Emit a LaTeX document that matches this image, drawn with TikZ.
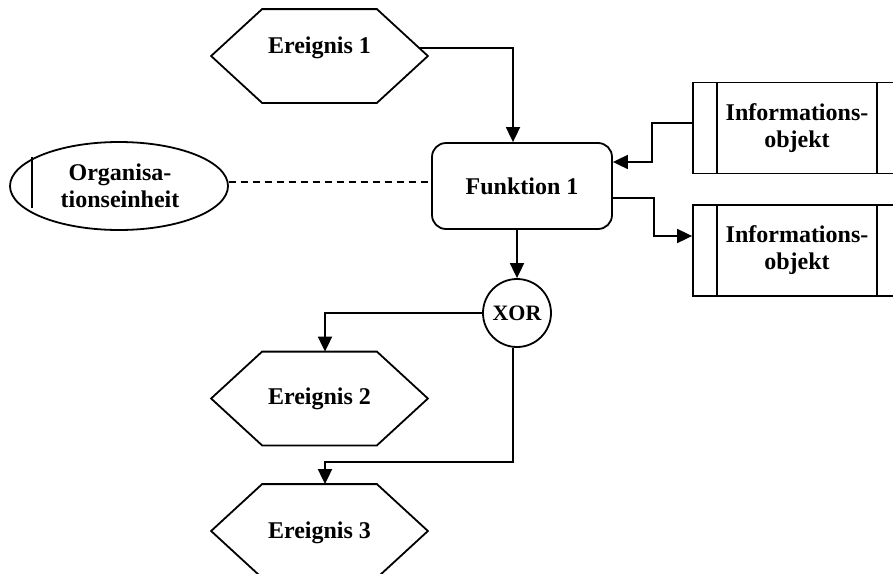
\documentclass[tikz,border=0pt]{standalone}
\usepackage{fontspec}
\setmainfont{Liberation Serif}
\usetikzlibrary{arrows.meta,shapes.geometric,calc}
\newcommand\hexdraw[1]{\draw (#1.west) -- ([xshift=51pt]#1.north west) -- ([xshift=-51pt]#1.north east) -- (#1.east) -- ([xshift=-51pt]#1.south east) -- ([xshift=51pt]#1.south west) -- cycle;}
\begin{document}
\begin{tikzpicture}[x=1pt,y=-1pt,line width=1.8pt,
  lbl/.style={font=\bfseries\fontsize{24}{27}\selectfont,align=center,inner sep=0pt},
  hexnode/.style={minimum width=215pt,minimum height=92pt,inner sep=0pt,draw=none},
  func/.style={lbl,draw,rounded corners=14pt,minimum width=180pt,minimum height=86pt},
  info/.style={lbl,draw,minimum width=208pt,minimum height=91pt},
  xorc/.style={draw,circle,minimum size=68pt,inner sep=0pt,font=\bfseries\fontsize{22}{26}\selectfont},
  orgell/.style={lbl,draw,ellipse,minimum width=218pt,minimum height=88pt},
  arr/.style={-{Triangle[length=15pt,width=14pt]}}]
\useasboundingbox (0,0) rectangle (893,573);
% events
\node[hexnode] (e1) at (319.5,56) {};
\node[lbl] (e1t) at ([yshift=8pt]e1.center) {Ereignis 1};
\hexdraw{e1}
\node[hexnode] (e2) at (319.5,398.5) {};
\node[lbl] (e2t) at (e2.center) {Ereignis 2};
\hexdraw{e2}
\node[hexnode] (e3) at (319.5,531) {};
\node[lbl] (e3t) at ([yshift=-2pt]e3.center) {Ereignis 3};
\hexdraw{e3}
% function
\node[func] (f1) at (522,186) {Funktion 1};
% info objects
\node[info] (inf1) at (797,128) {Informations-\\objekt};
\draw ([xshift=25pt]inf1.north west) -- ([xshift=25pt]inf1.south west);
\draw ([xshift=-25pt]inf1.north east) -- ([xshift=-25pt]inf1.south east);
\node[info] (inf2) at (797,250.5) {Informations-\\objekt};
\draw ([xshift=25pt]inf2.north west) -- ([xshift=25pt]inf2.south west);
\draw ([xshift=-25pt]inf2.north east) -- ([xshift=-25pt]inf2.south east);
% organisation unit
\node[orgell] (org) at (119,186) {\hspace*{2pt}Organisa-\\\hspace*{2pt}tionseinheit};
\draw ($(org)+(-87,-29)$) -- ($(org)+(-87,22)$);
% XOR
\node[xorc] (xor) at (517,313) {XOR};
% connectors
\coordinate (e1s) at ($(e1.east)+(-9.4,-8)$);
\draw[arr] (e1s) -| ([xshift=-9pt]f1.north);
\draw[dashed,dash pattern=on 7pt off 5pt] ([yshift=4pt]org.east) -- ([yshift=4pt]f1.west);
\draw[arr] ([yshift=5pt]inf1.west) -- ++(-40,0) |- ([yshift=24pt]f1.east);
\draw[arr] ([yshift=-12pt]f1.east) -- ++(41,0) |- ([yshift=14.5pt]inf2.west);
\draw[arr] ([xshift=-5pt]f1.south) -- (xor.north);
\draw[arr] (xor.west) -| ([xshift=5.5pt]e2.north);
\draw[arr] (xor.263) |- ($(e3.north)+(5.5,-22)$) -- ([xshift=5.5pt]e3.north);
\end{tikzpicture}
\end{document}
